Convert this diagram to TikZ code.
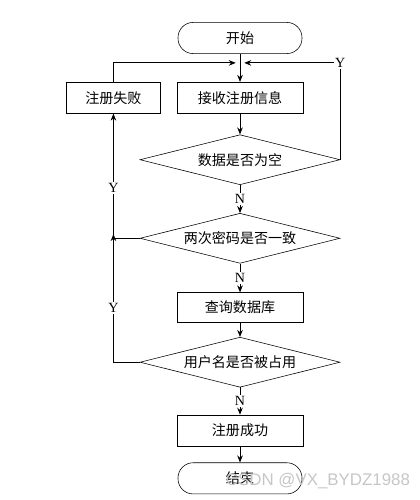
\documentclass[tikz,border=0pt]{standalone}
\usepackage{fontspec}
\setmainfont{Liberation Serif}
\newfontfamily\cjk{Noto Sans CJK SC}
\newfontfamily\wmfont{Liberation Sans}
\usepackage{tikz}
\usetikzlibrary{shapes.geometric, arrows.meta, positioning}

\begin{document}
\begin{tikzpicture}[
    node distance=0.7cm and 0.4cm,
    >={Stealth[length=5pt,width=4pt]},
    % Styles
    term/.style={draw, rounded corners=0.38cm, minimum width=3.1cm, minimum height=0.78cm, font=\cjk\normalsize},
    proc/.style={draw, minimum width=3.15cm, minimum height=0.78cm, font=\cjk\normalsize},
    cond/.style={diamond, draw, aspect=4, minimum width=5cm, minimum height=1.25cm, inner sep=1pt, font=\cjk\normalsize},
    arrow/.style={->, semithick},
    line/.style={semithick},
    lbl/.style={fill=white, inner sep=1pt, font=\normalsize},
]
\useasboundingbox (0,0) rectangle (10.475,-12.5);

% ── Main column ──
\node[term] (start) at (6.0,-0.95) {开始};
\node[proc, below=0.7cm of start] (recv) {接收注册信息};
\node[proc, left=0.4cm of recv, minimum width=2.35cm] (fail) {注册失败};
\node[cond, below=0.52cm of recv] (empty) {数据是否为空};
\node[cond, below=0.7cm of empty] (same) {两次密码是否一致};
\node[proc, below=0.72cm of same, minimum height=0.75cm] (query) {查询数据库};
\node[cond, below=0.35cm of query] (taken) {用户名是否被占用};
\node[proc, below=0.68cm of taken] (ok) {注册成功};
\node[term, below=0.4cm of ok] (stop) {结束};

\coordinate (merge) at ([yshift=-0.225cm]start.south);
\coordinate (j2) at (fail.south |- same.west);

\draw[arrow] (start) -- (recv);
\draw[arrow] (recv) -- (empty);
\draw[arrow] (empty) -- node[lbl] {N} (same);
\draw[arrow] (same) -- node[lbl] {N} (query);
\draw[arrow] (query) -- (taken);
\draw[arrow] (taken) -- node[lbl] {N} (ok);
\draw[arrow] (ok) -- (stop);

% ── Loops back ──
\draw[arrow] (empty.east) |- node[lbl, pos=0.5] {Y} ([xshift=3pt]merge);
\draw[arrow] (fail.north) |- ([xshift=-3pt]merge);
\draw[arrow] (taken.west) -| node[lbl, pos=0.61] {Y} node[lbl, pos=0.85] {Y} (fail.south);
\draw[arrow] (same.west) -| ([yshift=3pt]j2);

% ── Watermark ──
\node[font=\wmfont\large, text=gray!45] (mark) at (7.95,-12.02) {CSDN @VX\_BYDZ1988};

\end{tikzpicture}
\end{document}
